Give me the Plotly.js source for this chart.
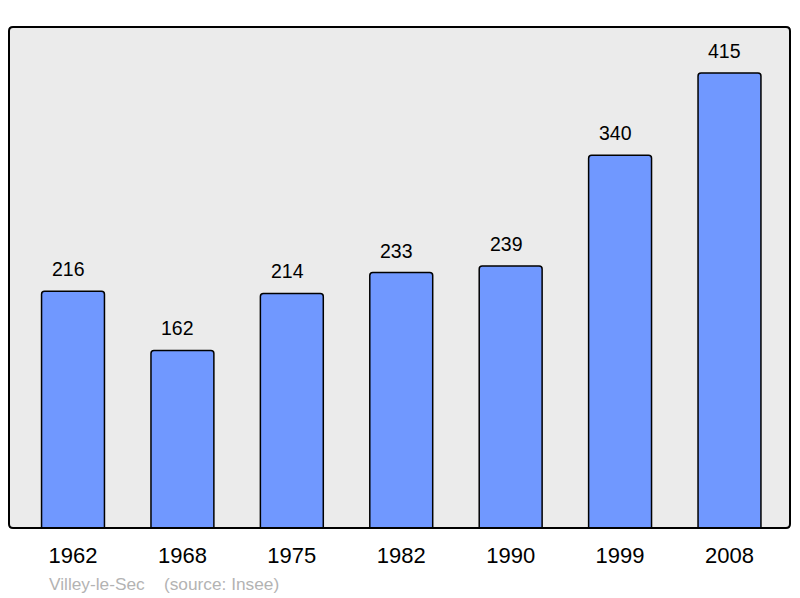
<!DOCTYPE html>
<html>
<head>
<meta charset="utf-8">
<script src="https://cdn.plot.ly/plotly-3.0.1.min.js"></script>
<style>html,body{margin:0;padding:0;background:#fff;}#chart{width:800px;height:598px;}</style>
</head>
<body>
<div id="chart"></div>
<script>
const years = ["1962", "1968", "1975", "1982", "1990", "1999", "2008"];
const population = [216, 162, 214, 233, 239, 340, 415];
const commune = "Villey-le-Sec";
const source = "(source: Insee)";

const font = "Liberation Sans, Arial, sans-serif";

const bars = {
  type: "bar",
  x: years,
  y: population,
  width: 0.575,
  marker: {color: "#7098ff", line: {color: "#000", width: 1.5}, cornerradius: 3},
  hoverinfo: "skip"
};

const labels = years.map((yr, i) => ({
  x: i, y: population[i], xref: "x", yref: "y",
  text: String(population[i]), showarrow: false,
  yanchor: "bottom", yshift: 9, xshift: -4.5,
  font: {family: font, size: 19.5, color: "#000"}
}));
labels.push({
  xref: "paper", yref: "paper", x: 0.049, y: -0.112,
  xanchor: "left", yanchor: "middle", showarrow: false,
  text: commune + "&nbsp;&nbsp;&nbsp;&nbsp;" + source,
  font: {family: font, size: 17.3, color: "#b3b3b3"}
});

const rx = 4 / 781, ry = 4 / 501;
const framePath = `M ${rx} 0 L ${1 - rx} 0 Q 1 0 1 ${ry} L 1 ${1 - ry} Q 1 1 ${1 - rx} 1 L ${rx} 1 Q 0 1 0 ${1 - ry} L 0 ${ry} Q 0 0 ${rx} 0 Z`;

const layout = {
  width: 800, height: 598,
  margin: {l: 9, r: 10, t: 27, b: 70},
  paper_bgcolor: "#fff",
  plot_bgcolor: "#ebebeb",
  showlegend: false,
  xaxis: {
    type: "category",
    range: [-0.585, 6.553],
    showgrid: false, zeroline: false, showline: false,
    ticks: "", ticklabelstandoff: 12,
    tickfont: {family: font, size: 22, color: "#000"},
    fixedrange: true
  },
  yaxis: {
    range: [0, 457],
    showgrid: false, zeroline: false, showline: false,
    showticklabels: false, ticks: "",
    fixedrange: true
  },
  annotations: labels,
  shapes: [{
    type: "path", xref: "paper", yref: "paper",
    path: framePath,
    line: {color: "#000", width: 2},
    fillcolor: "rgba(0,0,0,0)",
    layer: "above"
  }]
};

Plotly.newPlot("chart", [bars], layout, {displayModeBar: false, staticPlot: true});
</script>
</body>
</html>
